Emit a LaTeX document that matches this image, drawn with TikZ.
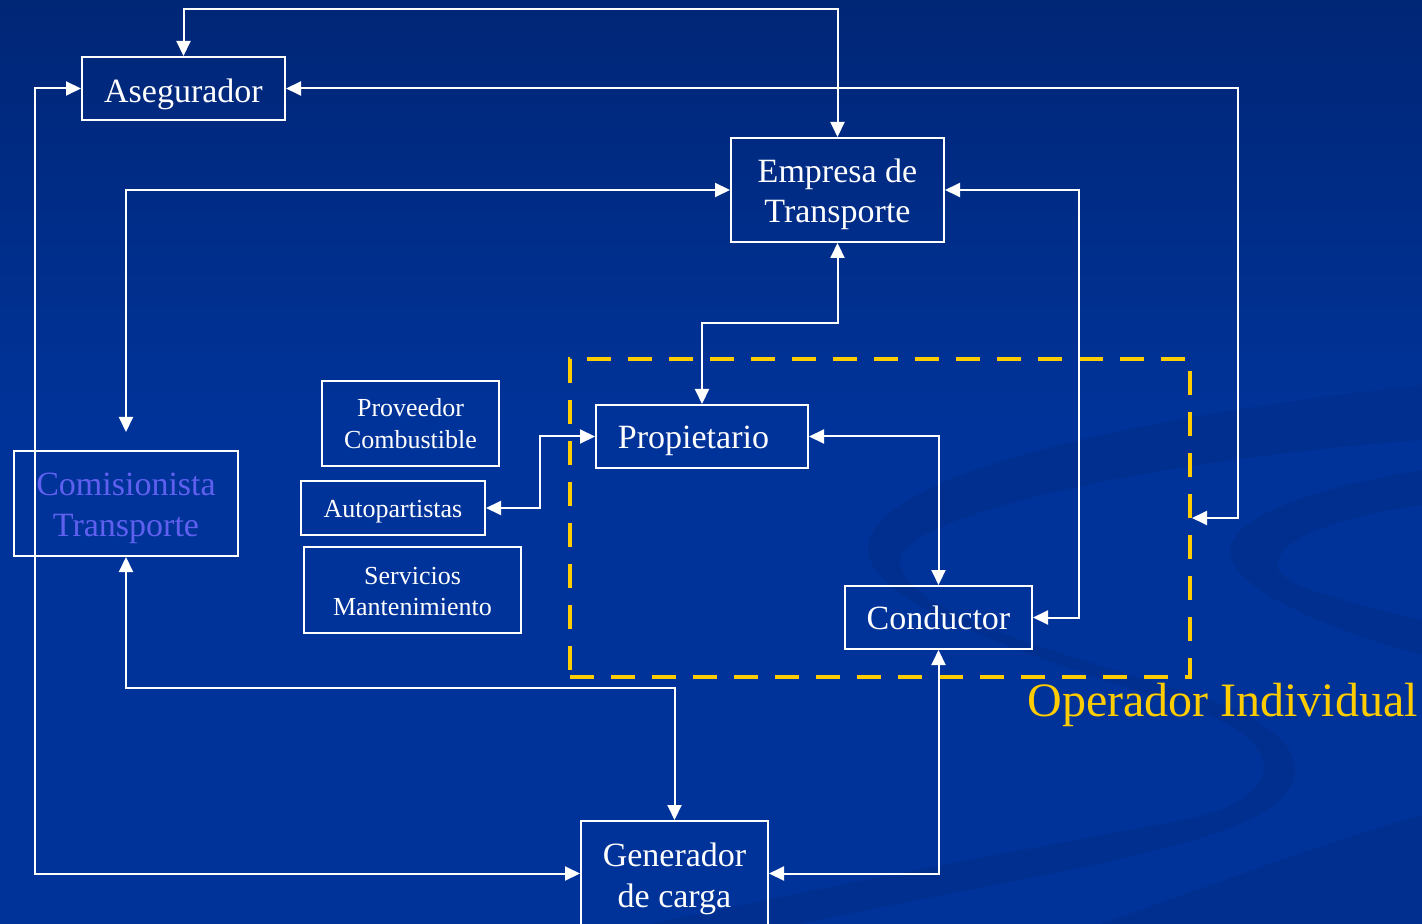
\documentclass[tikz,border=0pt]{standalone}
\usepackage{fontspec}
\setmainfont{Liberation Serif}
\usetikzlibrary{arrows.meta,calc}
\definecolor{bgtop}{RGB}{0,38,118}
\definecolor{bgbot}{RGB}{0,51,153}
\definecolor{swoosh}{RGB}{0,47,144}
\definecolor{opyellow}{RGB}{255,204,0}
\definecolor{comblue}{RGB}{96,96,240}
% text block whose first baseline sits (H-D)/2 below the box centre
\newcommand\bt[3]{\raisebox{0pt}[#1pt][#2pt]{\begin{tabular}[t]{@{}c@{}}#3\end{tabular}}}
\tikzset{
  box/.style={draw=white, line width=1pt, inner sep=0pt, text=white},
  bigtxt/.style={font=\fontsize{17}{20.5}\selectfont},
  smalltxt/.style={font=\fontsize{13}{16}\selectfont},
  arr/.style={draw=white, line width=1pt,
    {Triangle[length=7.5pt,width=7pt]}-{Triangle[length=7.5pt,width=7pt]}},
  dashbox/.style={draw=opyellow, line width=2pt, dash pattern=on 12pt off 8.5pt, inner sep=0pt},
}
\begin{document}
\begin{tikzpicture}[x=0.5pt,y=-0.5pt]
\clip (0,0) rectangle (1422,924);
\useasboundingbox (0,0) rectangle (1422,924);
% background
\shade[top color=bgtop, bottom color=bgbot] (0,0) rectangle (1422,420);
\fill[bgbot] (0,419) rectangle (1422,924);
\fill[swoosh] (1422,385) .. controls (1150,415) and (880,470) .. (868,545)
  .. controls (860,610) and (1080,670) .. (1200,712)
  .. controls (1290,745) and (1285,800) .. (1183,820)
  .. controls (1050,845) and (880,875) .. (650,924)
  -- (800,924) .. controls (1000,880) and (1230,850) .. (1280,800)
  .. controls (1320,760) and (1280,720) .. (1180,690)
  .. controls (1050,650) and (900,610) .. (900,560)
  .. controls (905,515) and (1150,460) .. (1422,440) -- cycle;
\fill[swoosh] (1422,470) .. controls (1300,490) and (1232,520) .. (1230,550)
  .. controls (1230,590) and (1330,630) .. (1422,655)
  -- (1422,620) .. controls (1340,600) and (1277,585) .. (1277,565)
  .. controls (1280,535) and (1350,515) .. (1422,505) -- cycle;
\fill[swoosh] (1422,815) .. controls (1300,850) and (1200,890) .. (1100,924) -- (1422,924) -- cycle;

% nodes
\node[box, bigtxt, minimum width=101.5pt, minimum height=31.5pt] (aseg) at (183.5,88.5) {\bt{15.5}{1}{Asegurador}};
\node[box, bigtxt, font=\fontsize{17}{20}\selectfont, minimum width=106.5pt, minimum height=52pt] (emp) at (837.5,190) {\bt{1}{8}{Empresa de\\Transporte}};
\node[box, smalltxt, minimum width=88.5pt, minimum height=42.5pt] (prov) at (410.5,423.5) {\bt{1}{7.8}{Proveedor\\Combustible}};
\node[box, smalltxt, minimum width=92pt, minimum height=27pt] (auto) at (393,508) {\bt{10.7}{1}{Autopartistas}};
\node[box, smalltxt, font=\fontsize{13}{15.5}\selectfont, minimum width=108.5pt, minimum height=43pt] (serv) at (412.5,590) {\bt{1}{7}{Servicios\\Mantenimiento}};
\node[box, bigtxt, text=comblue, minimum width=112pt, minimum height=52.5pt] (comis) at (126,503.5) {\bt{1}{8.8}{Comisionista\\Transporte}};
\node[box, bigtxt, minimum width=106pt, minimum height=31.5pt] (prop) at (702,436.5) {\bt{13.2}{1}{Propietario\hspace*{8.5pt}}};
\node[box, bigtxt, minimum width=93.5pt, minimum height=31.5pt] (cond) at (938.5,617.5) {\bt{13.2}{1}{Conductor}};
\node[box, bigtxt, minimum width=93.5pt, minimum height=57.5pt] (gen) at (674.5,878.5) {\bt{1}{13.5}{Generador\\de carga}};
\node[dashbox, minimum width=310pt, minimum height=159pt] (opind) at (880,518) {};
\node[anchor=base west, inner sep=0pt, text=opyellow, font=\fontsize{24}{28}\selectfont] (oplbl) at (1027,716) {Operador Individual};

% connectors
\draw[arr] (aseg.north) -- (aseg.north |- 0,9) -| (emp.north);
\draw[arr] (aseg.west) -- (35,88.5) |- ([yshift=2.5pt]gen.west);
\draw[arr] (aseg.east) -- (1238,88.5) |- (opind.east);
\draw[arr, shorten >=9pt] (emp.west) -| (comis.north);
\draw[arr] (emp.east) -- (1079,190) |- (cond.east);
\draw[arr] (emp.south) -- (837.5,323) -| (prop.north);
\draw[arr] (prop.west) -- (540,436.5) |- (auto.east);
\draw[arr] (prop.east) -| (cond.north);
\draw[arr] (cond.south) |- ([yshift=2.5pt]gen.east);
\draw[arr] (comis.south) -- (126,688) -| (gen.north);
\end{tikzpicture}
\end{document}
